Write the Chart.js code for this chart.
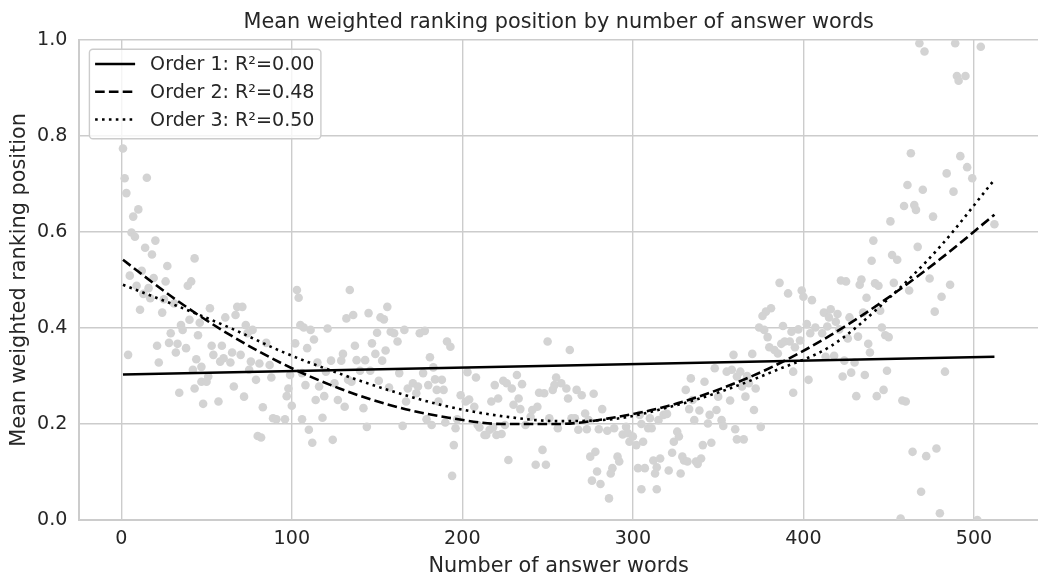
<!DOCTYPE html>
<html>
<head>
<meta charset="utf-8">
<script src="https://cdn.jsdelivr.net/npm/chart.js@4.4.1/dist/chart.umd.min.js"></script>
<style>
  html, body { margin: 0; padding: 0; background: #fff; }
</style>
</head>
<body>
<canvas id="chart" width="1038" height="574"></canvas>
<script>
// number of answer words / mean weighted ranking position (one point per length)
const wordCounts = [
  1,2,15,3,10,7,6,8,20,14, 18,43,27,12,5,19,26,41,39,9, 16,13,17,25,31,11,24,40,46,35,
  36,29,45,21,28,33,38,32,4,44, 22,42,47,43,34,48,
  52,61,68,71,67,73,77,74,85,53, 59,54,65,58,60,64,70,76,81,87, 75,47,51,50,88,99,79,66,72,98,
  97,57,83,100,89,91,96,80,82,
  103,104,134,145,136,132,152,105,107,111, 121,150,113,102,109,137,147,130,149,115,
  123,129,138,143,153,106,120,140,146,108, 116,125,133,135,151,119,127,114,131,142, 106,118,144,110,112,124,
  156,154,158,160,162,166,175,178,191,193, 155,181,183,163,177,203,157,168,171,174,
  180,184,188,185,189,173,167,186,199,202, 204,179,182,190,197,196,165,195,194,
  208,219,224,226,229,232,235,250,253,254, 207,217,221,233,230,234,241,244,245,248,
  237,251,240,209,210,216,218,213,214,220, 223,225,256,227,247,243,249,
  263,255,258,261,262,267,270,277,282,272, 264,266,274,268,273,280,285,289,294,296,
  297,300,298,302,304,305,306,309,278,275, 291,292,288,287,279,276,281,303,307,305, 286,
  359,348,355,358,334,342,331,350,357,335, 333,339,345,349,352,353,310,315,318,320,
  311,336,344,326,341,346,360,324,327,323, 316,312,329,330,332,337,338,340,314,321, 313,328,314,
  386,391,399,400,405,412,381,378,376,374, 377,388,379,393,397,402,407,404,411,380,
  383,385,387,389,392,395,398,370,363,361, 367,368,364,372,394,403,394,366,371,375, 361,365,
  463,461,459,465,466,451,441,440,452,455, 467,422,425,434,433,442,444,453,462,437,
  416,420,415,419,427,435,445,414,421,426, 432,446,448,450,438,439,413,418,424,430,
  423,428,436,449,431,443,447,458,460,464, 457,
  468,471,489,504,490,491,495,492,484,496, 499,470,488,476,512,474,486,481,477,483, 472,478,469,480,502
];
const meanRank = [
  .774,.712,.713,.681,.647,.632,.599,.590,.582,.567, .553,.545,.529,.519,.509,.504,.497,.497,.488,.488,
  .483,.471,.462,.460,.451,.438,.432,.417,.411,.406, .396,.389,.385,.363,.369,.367,.358,.349,.344,.335,
  .328,.313,.288,.274,.265,.242,
  .441,.422,.444,.444,.427,.406,.396,.389,.369,.363, .363,.344,.349,.330,.337,.328,.344,.330,.326,.323,
  .313,.319,.299,.288,.297,.302,.292,.278,.257,.274, .258,.247,.235,.238,.212,.210,.210,.175,.172,
  .479,.463,.479,.431,.427,.420,.422,.406,.401,.396, .399,.390,.376,.368,.358,.363,.368,.346,.346,.328,
  .332,.332,.333,.333,.332,.306,.309,.311,.311,.281, .278,.285,.292,.288,.290,.258,.250,.250,.236,.233,
  .210,.213,.194,.188,.161,.167,
  .444,.418,.392,.389,.372,.396,.389,.394,.372,.361, .353,.339,.318,.306,.306,.308,.276,.274,.285,.278,
  .281,.293,.292,.271,.271,.264,.247,.247,.260,.247, .251,.210,.198,.203,.210,.191,.196,.156,.092,
  .297,.281,.290,.285,.274,.302,.283,.372,.271,.281, .236,.247,.253,.253,.240,.231,.229,.236,.265,.264,
  .198,.212,.215,.198,.193,.188,.193,.177,.177,.177, .179,.198,.191,.125,.146,.115,.115,
  .354,.297,.285,.274,.253,.271,.260,.263,.231,.222, .212,.212,.208,.188,.189,.189,.186,.191,.178,.194,
  .181,.174,.163,.156,.219,.200,.163,.191,.142,.132, .132,.122,.108,.097,.101,.082,.075,.108,.108,.064, .045,
  .344,.316,.309,.313,.295,.288,.271,.257,.249,.250, .231,.228,.219,.229,.208,.196,.212,.208,.219,.221,
  .191,.208,.201,.184,.156,.161,.189,.163,.174,.140, .128,.124,.132,.124,.122,.122,.117,.128,.110,.103,
  .097,.097,.064,
  .494,.472,.478,.465,.458,.432,.441,.434,.425,.401, .396,.404,.381,.392,.397,.408,.401,.389,.389,.360,
  .354,.347,.367,.372,.372,.360,.374,.346,.309,.299, .300,.285,.278,.274,.309,.292,.265,.257,.229,.194,
  .168,.168,
  .764,.698,.654,.656,.646,.622,.582,.540,.552,.542, .569,.499,.497,.501,.490,.493,.488,.494,.478,.463,
  .439,.429,.422,.413,.422,.432,.436,.403,.397,.378, .382,.401,.385,.381,.367,.349,.340,.342,.332,.328,
  .299,.307,.302,.311,.258,.258,.271,.249,.247,.142, .003,
  .993,.976,.993,.986,.925,.915,.925,.758,.722,.735, .712,.688,.684,.632,.616,.503,.490,.465,.434,.309,
  .133,.149,.059,.014,.000
];

// polynomial fits
const order1X = [1, 512];
const order1Y = [0.303, 0.340];
const fitX = [1, 32, 64, 96, 128, 160, 192, 224, 256, 288, 320, 352, 384, 416, 448, 480, 512];
const order2Y = [0.542, 0.459, 0.385, 0.323, 0.274, 0.237, 0.213, 0.200, 0.200, 0.213, 0.237, 0.274, 0.323, 0.385, 0.459, 0.543, 0.636];
const order3Y = [0.490, 0.447, 0.400, 0.348, 0.305, 0.267, 0.236, 0.216, 0.206, 0.210, 0.234, 0.268, 0.312, 0.362, 0.455, 0.569, 0.709];

const fitLabels = ['Order 1: R²=0.00', 'Order 2: R²=0.48', 'Order 3: R²=0.50'];
const xTicks = [0, 100, 200, 300, 400, 500];
const yTicks = [0, 0.2, 0.4, 0.6, 0.8, 1.0];

const pts = (xs, ys) => xs.map((x, i) => ({ x: x, y: ys[i] }));

Chart.defaults.font.family = "'DejaVu Sans', sans-serif";
Chart.defaults.color = '#262626';

// matplotlib-style legend box in the upper left corner
const legendFrame = {
  id: 'legendFrame',
  afterDraw(chart) {
    const { ctx, chartArea } = chart;
    const lines = chart.data.datasets.filter(d => d.type === 'line');
    const left = chartArea.left + 10, top = chartArea.top + 9.3;
    ctx.save();
    ctx.beginPath();
    ctx.roundRect(left, top, 231.5, 89.5, 3.5);
    ctx.fillStyle = 'rgba(255,255,255,0.8)';
    ctx.fill();
    ctx.lineWidth = 1.4;
    ctx.strokeStyle = '#cccccc';
    ctx.stroke();
    ctx.font = '19.1px "DejaVu Sans"';
    ctx.fillStyle = '#262626';
    ctx.textBaseline = 'middle';
    lines.forEach((ds, i) => {
      const y = top + 14.7 + i * 27.8;
      ctx.beginPath();
      ctx.setLineDash(ds.borderDash || []);
      ctx.lineWidth = ds.borderWidth;
      ctx.strokeStyle = ds.borderColor;
      ctx.moveTo(left + 5.7, y);
      ctx.lineTo(left + 45.7, y);
      ctx.stroke();
      ctx.setLineDash([]);
      ctx.fillText(ds.label, left + 60.7, y + 1);
    });
    ctx.restore();
  }
};

new Chart(document.getElementById('chart'), {
  data: {
    datasets: [
      { type: 'line', label: fitLabels[0], data: pts(order1X, order1Y), borderColor: '#000', borderWidth: 2.6,
        pointRadius: 0, order: 1, clip: 0 },
      { type: 'line', label: fitLabels[1], data: pts(fitX, order2Y), borderColor: '#000', borderWidth: 2.6,
        borderDash: [9.6, 4.2], pointRadius: 0, cubicInterpolationMode: 'monotone', order: 2, clip: 0 },
      { type: 'line', label: fitLabels[2], data: pts(fitX, order3Y), borderColor: '#000', borderWidth: 2.6,
        borderDash: [2.6, 4.3], pointRadius: 0, cubicInterpolationMode: 'monotone', order: 3, clip: 0 },
      { type: 'scatter', label: 'answers', data: pts(wordCounts, meanRank), backgroundColor: '#d3d3d3',
        borderWidth: 0, pointRadius: 4.3, order: 10, clip: 0 }
    ]
  },
  options: {
    responsive: false,
    animation: false,
    // the axes run on past the right edge of the picture
    layout: { autoPadding: false, padding: { left: 0, right: -11, top: 0, bottom: 0 } },
    plugins: {
      legend: { display: false },
      tooltip: { enabled: false },
      title: {
        display: true,
        text: 'Mean weighted ranking position by number of answer words',
        fullSize: false,
        color: '#262626',
        font: { size: 20.8, weight: 'normal' },
        padding: { top: 10, bottom: 5 }
      }
    },
    scales: {
      x: {
        type: 'linear',
        min: -24.55,
        max: 537.55,
        afterBuildTicks: s => { s.ticks = xTicks.map(v => ({ value: v })); },
        afterFit: s => { s.height = 54; },
        grid: { color: '#cccccc', lineWidth: 1.4, drawTicks: false },
        border: { color: '#cccccc', width: 2 },
        ticks: { font: { size: 19.1 }, padding: 8, color: '#262626' },
        title: { display: true, text: 'Number of answer words', color: '#262626',
                 font: { size: 20.8, lineHeight: 0.72 }, padding: 0 }
      },
      y: {
        min: 0,
        max: 1,
        afterBuildTicks: s => { s.ticks = yTicks.map(v => ({ value: v })); },
        afterFit: s => { s.width = 79.4; },
        grid: { color: '#cccccc', lineWidth: 1.4, drawTicks: false },
        border: { color: '#cccccc', width: 2 },
        ticks: { font: { size: 19.1 }, padding: 12, color: '#262626', callback: v => v.toFixed(1) },
        title: { display: true, text: 'Mean weighted ranking position', color: '#262626',
                 font: { size: 20.8, lineHeight: 1.2 }, padding: { top: 7.5, bottom: 0 } }
      }
    }
  },
  plugins: [legendFrame]
});
</script>
</body>
</html>
